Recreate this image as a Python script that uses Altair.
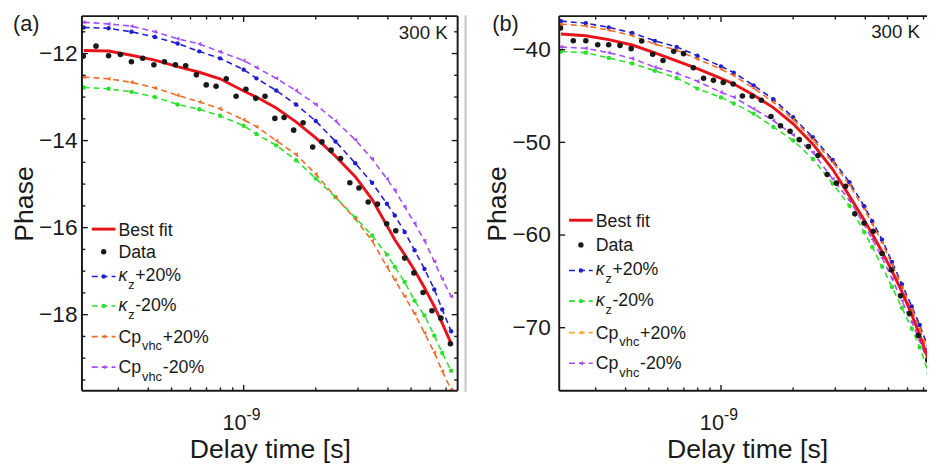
import altair as alt
import pandas as pd

# ---------------- data ----------------
# delay times of the measured points (ns) - same grid in both panels
delay_ns = [0.214, 0.242, 0.273, 0.306, 0.340, 0.379, 0.422, 0.467, 0.519, 0.573,
            0.635, 0.698, 0.767, 0.846, 0.930, 1.022, 1.124, 1.228, 1.350, 1.475,
            1.617, 1.771, 1.941, 2.121, 2.317, 2.538, 2.775, 3.030, 3.310, 3.618,
            3.952, 4.315, 4.699, 5.136, 5.610, 6.109, 6.653, 7.295]

data_a = [-12.06, -11.83, -12.05, -12.02, -12.19, -12.11, -12.26, -12.19, -12.26, -12.28,
          -12.49, -12.72, -12.75, -12.58, -12.98, -12.82, -13.03, -12.98, -13.49, -13.47,
          -13.76, -13.59, -14.15, -14.03, -14.22, -14.41, -14.97, -15.09, -15.41, -15.46,
          -15.91, -16.07, -16.70, -17.04, -17.49, -17.91, -18.08, -18.67]

data_b = [-37.66, -39.04, -39.04, -39.47, -39.47, -39.54, -39.89, -39.07, -40.50, -41.17,
          -40.18, -40.43, -41.95, -43.09, -43.31, -43.53, -43.70, -45.00, -45.03, -45.45,
          -47.21, -48.22, -48.81, -49.71, -50.46, -51.41, -53.47, -54.40, -54.75, -57.71,
          -58.70, -59.60, -61.99, -63.76, -66.55, -68.48, -70.85, -73.50]

# delay times (ns) at which the model curves were read
model_ns = [0.215, 0.273, 0.340, 0.426, 0.530, 0.653, 0.797, 1.000, 1.131, 1.368,
            1.654, 2.000, 2.418, 2.924, 3.436, 3.962, 4.275, 4.700, 5.170, 5.684,
            6.250, 6.744, 7.345]

fit_a = [-11.93, -11.94, -12.04, -12.15, -12.30, -12.43, -12.58, -12.86, -13.00, -13.25,
         -13.57, -13.94, -14.36, -14.83, -15.35, -15.95, -16.28, -16.62, -16.98, -17.38,
         -17.81, -18.20, -18.66]
kz_plus_a = [-11.40, -11.42, -11.50, -11.62, -11.77, -11.95, -12.11, -12.37, -12.57, -12.85,
             -13.17, -13.55, -14.02, -14.52, -14.97, -15.45, -15.72, -16.10, -16.52, -16.95,
             -17.42, -17.88, -18.38]
kz_minus_a = [-12.78, -12.81, -12.88, -13.00, -13.17, -13.28, -13.43, -13.66, -13.85, -14.11,
              -14.45, -14.87, -15.30, -15.77, -16.18, -16.62, -16.90, -17.25, -17.68, -18.02,
              -18.48, -18.88, -19.29]
cp_plus_a = [-12.54, -12.58, -12.66, -12.79, -12.96, -13.11, -13.27, -13.52, -13.68, -14.00,
             -14.32, -14.77, -15.30, -15.80, -16.30, -16.90, -17.20, -17.58, -17.98, -18.42,
             -18.87, -19.30, -19.72]
cp_minus_a = [-11.28, -11.32, -11.37, -11.50, -11.66, -11.78, -11.96, -12.16, -12.32, -12.57,
              -12.85, -13.17, -13.55, -13.98, -14.42, -14.88, -15.14, -15.52, -15.90, -16.30,
              -16.78, -17.18, -17.58]

fit_b = [-38.30, -38.50, -38.92, -39.50, -40.35, -41.20, -42.05, -43.10, -43.70, -44.90,
         -46.25, -48.00, -50.20, -52.90, -55.80, -58.40, -59.90, -61.80, -63.90, -66.10,
         -68.60, -70.80, -73.50]
kz_plus_b = [-36.92, -37.15, -37.59, -38.19, -39.05, -39.70, -40.65, -41.80, -42.48, -43.85,
             -45.35, -47.30, -49.45, -51.90, -54.30, -56.90, -58.50, -60.50, -62.90, -65.30,
             -67.70, -69.70, -72.30]
kz_minus_b = [-40.20, -40.32, -40.89, -41.49, -42.28, -43.05, -44.20, -45.15, -45.80, -46.90,
              -48.35, -49.80, -51.80, -54.45, -56.85, -59.70, -61.30, -63.40, -65.60, -67.85,
              -70.10, -72.10, -74.90]
cp_plus_b = [-37.25, -37.42, -37.88, -38.48, -39.40, -40.05, -41.00, -42.10, -42.80, -44.15,
             -45.65, -47.55, -49.70, -52.15, -54.60, -57.20, -58.80, -60.80, -63.20, -65.60,
             -68.05, -70.10, -72.80]
cp_minus_b = [-39.72, -39.85, -40.32, -40.96, -41.88, -42.55, -43.40, -44.60, -45.12, -46.38,
              -47.65, -49.20, -51.10, -53.95, -56.25, -58.90, -60.45, -62.45, -64.70, -67.10,
              -69.40, -71.40, -73.90]

model_names = ["kz+20%", "kz-20%", "Cp+20%", "Cp-20%"]

x_minor_ns = [0.3, 0.4, 0.5, 0.6, 0.7, 0.8, 0.9, 2, 3, 4, 5, 6, 7]
x_major_ns = [1]
y_major_a = [-12, -14, -16, -18]
y_minor_a = [-11.5, -12.5, -13, -13.5, -14.5, -15, -15.5, -16.5, -17, -17.5, -18.5, -19, -19.5]
y_major_b = [-40, -50, -60, -70]

# ---------------- style ----------------
FONT = "Liberation Sans"
INK = "#1a1a1a"
RED = "#e8141c"
BLUE = "#1f1fd0"
GREEN = "#2ee02e"
ORANGE_A = "#f26b2a"
ORANGE_B = "#f5a733"
PURPLE = "#a64dff"
H = 380
DASH = [6, 4]
MSIZE = 20
one = pd.DataFrame({"k": [0]})


def vtext(text, x, y, size, align="left", baseline="alphabetic", style="normal"):
    return alt.Chart(one).mark_text(text=text, font=FONT, fontSize=size, fontStyle=style,
                                    align=align, baseline=baseline, color=INK).encode(
        x=alt.value(x), y=alt.value(y))


def hseg(x0, x1, y, color, width, dash=False):
    kw = dict(color=color, strokeWidth=width)
    if dash:
        kw["strokeDash"] = DASH
    return alt.Chart(one).mark_rule(**kw).encode(x=alt.value(x0), x2=alt.value(x1), y=alt.value(y))


def vseg(x, y0, y1, color, width):
    return alt.Chart(one).mark_rule(color=color, strokeWidth=width).encode(
        x=alt.value(x), y=alt.value(y0), y2=alt.value(y1))


def dot(x, y, color, shape, size):
    return alt.Chart(one).mark_point(filled=True, shape=shape, size=size, color=color, opacity=1).encode(
        x=alt.value(x), y=alt.value(y))


def legend(rows, colors):
    L = []
    r0, r1, r2, r3, r4, r5 = rows
    L.append(hseg(10, 34, r0, RED, 3))
    L.append(vtext("Best fit", 37, r0 + 6.5, 18))
    L.append(dot(22, r1, INK, "circle", 30))
    L.append(vtext("Data", 37, r1 + 6.5, 18))
    entries = [("κ", "z", "+20%", colors[0], "circle", r2),
               ("κ", "z", "-20%", colors[1], "circle", r3),
               ("Cp", "vhc", "+20%", colors[2], "triangle-left", r4),
               ("Cp", "vhc", "-20%", colors[3], "triangle-left", r5)]
    for main, sub, tail, col, shp, r in entries:
        L.append(hseg(10, 34, r, col, 1.6, dash=True))
        L.append(dot(22, r, col, shp, MSIZE))
        if main == "κ":
            L.append(vtext("κ", 37, r + 5, 18, style="italic"))
            L.append(vtext(sub, 47, r + 13, 13))
            L.append(vtext(tail, 54, r + 5, 18))
        else:
            L.append(vtext(main, 37, r + 6, 18))
            L.append(vtext(sub, 61, r + 14, 13))
            L.append(vtext(tail, 82, r + 6, 18))
    return L


def panel(tag, tag_x, data_vals, fit_vals, curves, colors, W, xmax_ns, ydom, ymaj, ymin,
          rows, label_pad, title_x, xtitle_x, full_box, k_x, k_y, gray=False):
    xs = alt.Scale(type="log", domain=[0.2114e-9, xmax_ns * 1e-9], nice=False)
    ys = alt.Scale(domain=ydom, nice=False, zero=False)
    X = alt.X("t:Q", scale=xs, axis=alt.Axis(
        labels=False, ticks=False, domain=False, grid=False, title="Delay time [s]",
        titleFont=FONT, titleFontSize=27, titleFontWeight="normal", titleColor=INK,
        titleBaseline="alphabetic", titleAlign="center", titleY=68, titleX=xtitle_x))
    Y = alt.Y("phase:Q", scale=ys, axis=alt.Axis(
        values=ymaj, ticks=False, domain=False, grid=False, labelFont=FONT, labelFontSize=23,
        labelColor=INK, labelPadding=label_pad, title="Phase", titleFont=FONT, titleFontSize=27,
        titleFontWeight="normal", titleColor=INK, titleBaseline="alphabetic", titleAlign="center",
        titleAngle=270, titleX=title_x, titleY=H / 2))

    data_df = pd.DataFrame({"t": [v * 1e-9 for v in delay_ns], "phase": data_vals})
    fit_df = pd.DataFrame({"t": [v * 1e-9 for v in model_ns], "phase": fit_vals})
    mrows = []
    for name, vals in zip(model_names, curves):
        for t, v in zip(model_ns, vals):
            mrows.append({"t": t * 1e-9, "phase": v, "series": name})
    model_df = pd.DataFrame(mrows)
    cscale = alt.Scale(domain=model_names, range=colors)
    sscale = alt.Scale(domain=model_names, range=["circle", "circle", "triangle-left", "triangle-left"])

    lines = alt.Chart(model_df).mark_line(strokeWidth=1.6, strokeDash=DASH, clip=True).encode(
        x=X, y=Y, color=alt.Color("series:N", scale=cscale, legend=None), detail="series:N")
    marks = alt.Chart(model_df).mark_point(filled=True, size=MSIZE, opacity=1, clip=True).encode(
        x=X, y=Y, color=alt.Color("series:N", scale=cscale, legend=None),
        shape=alt.Shape("series:N", scale=sscale, legend=None))
    fit = alt.Chart(fit_df).mark_line(color=RED, strokeWidth=3, clip=True).encode(x=X, y=Y)
    pts = alt.Chart(data_df).mark_circle(color=INK, size=32, opacity=1, clip=True).encode(x=X, y=Y)

    def xt(vals, y0, y1):
        return alt.Chart(pd.DataFrame({"t": [v * 1e-9 for v in vals]})).mark_rule(
            color=INK, strokeWidth=1.4).encode(x=X, y=alt.value(y0), y2=alt.value(y1))

    def yt(vals, x0, x1):
        return alt.Chart(pd.DataFrame({"phase": vals})).mark_rule(
            color=INK, strokeWidth=1.4).encode(y=Y, x=alt.value(x0), x2=alt.value(x1))

    ticks = [xt(x_minor_ns, H, H - 3.5), xt(x_major_ns, H, H - 6),
             xt(x_minor_ns, 0, 3.5), xt(x_major_ns, 0, 6),
             yt(ymaj, 0, 6)]
    if ymin:
        ticks.append(yt(ymin, 0, 3.5))
    if full_box:
        ticks.append(yt(ymaj, W - 6, W))
        if ymin:
            ticks.append(yt(ymin, W - 3.5, W))

    borders = [hseg(0, W, 0, INK, 2), hseg(0, W, H, INK, 2), vseg(0, 0, H, INK, 2)]
    if full_box:
        borders.append(vseg(W, 0, H, INK, 2))

    lab = pd.DataFrame({"t": [1e-9]})
    ten = alt.Chart(lab).mark_text(text="10", font=FONT, fontSize=22, color=INK, align="right",
                                   baseline="alphabetic", dx=3).encode(x=X, y=alt.value(H + 40))
    exp = alt.Chart(lab).mark_text(text="-9", font=FONT, fontSize=16, color=INK, align="left",
                                   baseline="alphabetic", dx=3).encode(x=X, y=alt.value(H + 30))

    extras = [vtext("300 K", k_x, k_y, 19, align="right", baseline="middle"),
              vtext(tag, tag_x, 8, 22, baseline="middle")]
    if gray:
        extras.append(vseg(-95, -1, 381, "#c4c4c4", 2))

    return alt.layer(lines, marks, fit, pts, *ticks, *borders, ten, exp, *extras,
                     *legend(rows, colors)).properties(width=W, height=H)


panel_a = panel("(a)", -70, data_a, fit_a, [kz_plus_a, kz_minus_a, cp_plus_a, cp_minus_a],
                [BLUE, GREEN, ORANGE_A, PURPLE], 381, 7.82, [-19.75, -11.14],
                y_major_a, y_minor_a, [216, 239, 264, 294, 325, 356], 5, -50, 190.5, True,
                371, 17)

panel_b = panel("(b)", -68, data_b, fit_b, [kz_plus_b, kz_minus_b, cp_plus_b, cp_minus_b],
                [BLUE, GREEN, ORANGE_B, PURPLE], 373, 7.236, [-76.81, -36.38],
                y_major_b, [], [207, 232, 258, 289, 321, 352], 9, -54, 190.5, False,
                366, 16.5, gray=True)

chart = alt.hconcat(panel_a, panel_b, spacing=6).properties(
    padding={"left": 3, "top": 2, "right": 0, "bottom": 0}
).configure_view(stroke=None)

chart.save("out.html", embed_options={"renderer": "svg", "actions": False})
